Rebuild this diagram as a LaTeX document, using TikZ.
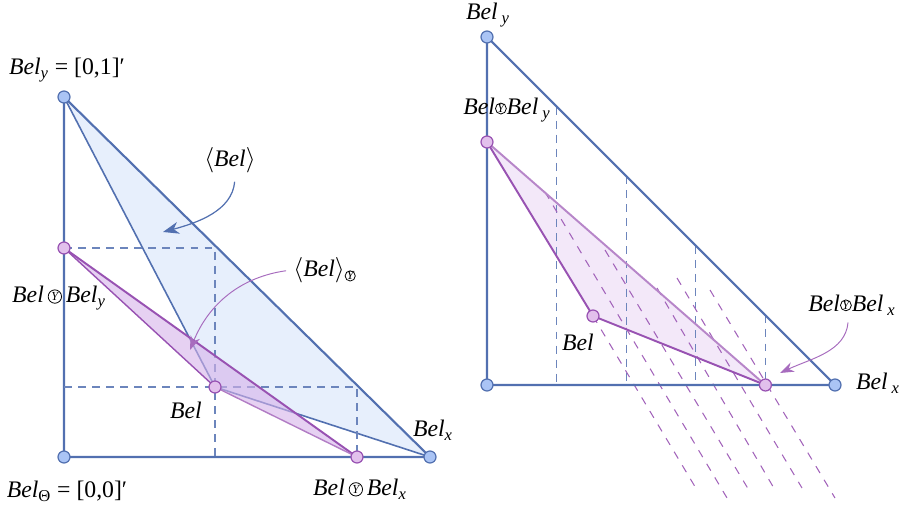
\documentclass[tikz,border=0pt]{standalone}
\usepackage{fontspec}
\setmainfont{Liberation Serif}
\usetikzlibrary{positioning,arrows.meta,calc}
\definecolor{EdgeBlue}{RGB}{82,112,176}
\definecolor{DotBlue}{RGB}{170,196,245}
\definecolor{HullBlue}{RGB}{231,239,252}
\definecolor{SumPurple}{RGB}{152,82,178}
\definecolor{DotPurple}{RGB}{226,192,236}
\definecolor{SumFill}{RGB}{214,178,234}
\newcommand{\ysum}[1][3.8pt]{\tikz[baseline=-0.55ex]{\draw[line width=0.45pt] (0,0) circle[radius=#1];
  \node[inner sep=0pt,font=\fontsize{7}{7}\selectfont\itshape] at (0,0.1pt) {Y};}}
\newcommand{\bel}{\textit{Bel}}
\newcommand{\sub}[1]{\textsubscript{\textit{#1}}}
\tikzset{
  rim/.style={draw=EdgeBlue,line width=1.2pt,line join=round},
  hull/.style={draw=EdgeBlue,line width=0.9pt},
  sumedge/.style={draw=SumPurple,line width=1.1pt},
  bluedash/.style={draw=EdgeBlue!85,line width=0.6pt,dash pattern=on 4.5pt off 3.5pt},
  purpledash/.style={draw=SumPurple!90,line width=0.6pt,dash pattern=on 4.5pt off 4.5pt},
  bluept/.style={circle,draw=EdgeBlue,fill=DotBlue,line width=0.7pt,minimum size=0.24cm,inner sep=0pt},
  purplept/.style={circle,draw=SumPurple,fill=DotPurple,line width=0.7pt,minimum size=0.24cm,inner sep=0pt},
  lbl/.style={inner sep=1pt},
  bluearrow/.style={-{Stealth[length=3.2mm,width=2.4mm,inset=1mm]},draw=EdgeBlue,line width=0.7pt},
  purplearrow/.style={-{Stealth[length=2.8mm,width=2mm,inset=0.9mm]},draw=SumPurple!85,line width=0.55pt}
}
\begin{document}
\begin{tikzpicture}[font=\fontsize{13.5}{16}\selectfont]
  \useasboundingbox (0,0) rectangle (18.08,10.16);
  % left simplex
  \coordinate (BelT) at (1.28,1.02);
  \coordinate (Bely) at (1.28,8.22);
  \coordinate (Belx) at (8.60,1.02);
  \coordinate (BelY) at (1.28,5.20);
  \coordinate (Bel) at (4.30,2.42);
  \coordinate (BelX) at (7.14,1.02);
  \fill[HullBlue] (Bely) -- (Belx) -- (Bel) -- cycle;
  \draw[rim] (Bely) -- (BelT) -- (Belx) -- (Bely);
  \draw[hull] (Bely) -- (Bel) -- (Belx);
  \draw[bluedash] (BelY) -- (Bel |- BelY) -- (Bel |- BelT);
  \draw[bluedash] (BelT |- Bel) -- (BelX |- Bel) -- (BelX);
  \fill[SumFill,fill opacity=0.6] (BelY) -- (Bel) -- (BelX) -- cycle;
  \draw[sumedge] (BelY) -- (BelX);
  \draw[sumedge,line width=0.8pt] (BelY) -- (Bel);
  \draw[sumedge,draw=SumPurple!75,line width=0.8pt] (Bel) -- (BelX);
  \foreach \p in {BelT,Bely,Belx} \node[bluept] (d\p) at (\p) {};
  \foreach \p in {BelY,Bel,BelX} \node[purplept] (d\p) at (\p) {};
  \node[lbl] (lBely) at (1.34,8.76) {\bel\sub{y} = [0,1]′};
  \node[lbl] (lBelT) at (1.34,0.34) {\bel\textsubscript{Θ} = [0,0]′};
  \node[lbl] (lBelY) at (1.18,4.20) {\bel\,\ysum\,\bel\sub{y}};
  \node[lbl] (lBel) at (3.72,1.96) {\bel};
  \node[lbl] (lBelx) at (8.66,1.56) {\bel\sub{x}};
  \node[lbl] (lBelX) at (7.20,0.38) {\bel\,\ysum\,\bel\sub{x}};
  \node[lbl] (lHull) at (4.60,6.96) {$\langle$\bel$\rangle$};
  \node[lbl] (lSum) at (6.50,4.76) {$\langle$\bel$\rangle$\textsubscript{\ysum[2.9pt]}};
  \coordinate (hullTip) at (3.26,5.52);
  \coordinate (sumTip) at (3.80,3.16);
  \draw[bluearrow,shorten <=4pt] ([xshift=3pt]lHull.south) to[out=-95,in=15] (hullTip);
  \draw[purplearrow,shorten <=3pt] (lSum.west) to[out=188,in=68] (sumTip);
  % right simplex
  \coordinate (O) at (9.74,2.46);
  \coordinate (Ry) at (9.74,9.42);
  \coordinate (Rx) at (16.70,2.46);
  \coordinate (RY) at (9.74,7.32);
  \coordinate (RBel) at (11.86,3.84);
  \coordinate (RX) at ($(O)!0.8!(Rx)$);
  \fill[SumFill,fill opacity=0.3] (RY) -- (RBel) -- (RX) -- cycle;
  \foreach \t in {0.2,0.4,0.6,0.8}
    \draw[bluedash] ($(Ry)!\t!(Rx)$) -- ($(O)!\t!(Rx)$);
  \foreach \xa/\ya/\xb/\yb in {11.86/3.84/13.94/0.36, 10.90/6.32/14.60/0.10,
      12.10/5.16/15.00/0.32, 13.14/4.40/15.50/0.36, 13.54/4.60/16.04/0.40, 14.20/4.36/16.70/0.20}
    \draw[purpledash] (\xa,\ya) -- (\xb,\yb);
  \draw[rim] (Ry) -- (O) -- (Rx) -- cycle;
  \draw[sumedge,draw=SumPurple!70] (RY) -- (RX);
  \draw[sumedge] (RY) -- (RBel) -- (RX);
  \foreach \p in {O,Ry,Rx} \node[bluept] (d\p) at (\p) {};
  \foreach \p in {RY,RBel,RX} \node[purplept] (d\p) at (\p) {};
  \node[lbl] (rBely) at (9.76,9.86) {\bel\,\sub{y}};
  \node[lbl] (rBelY) at (10.14,7.96) {\bel\ysum[3.1pt]\bel\,\sub{y}};
  \node[lbl] (rBel) at (11.56,3.32) {\bel};
  \node[lbl] (rBelX) at (17.04,4.06) {\bel\ysum[3.1pt]\bel\,\sub{x}};
  \node[lbl] (rBelx) at (17.56,2.50) {\bel\,\sub{x}};
  \coordinate (rTip) at (15.60,2.70);
  \draw[purplearrow,shorten <=3pt] ([xshift=-2pt]rBelX.south) to[out=-95,in=25] (rTip);
\end{tikzpicture}
\end{document}
